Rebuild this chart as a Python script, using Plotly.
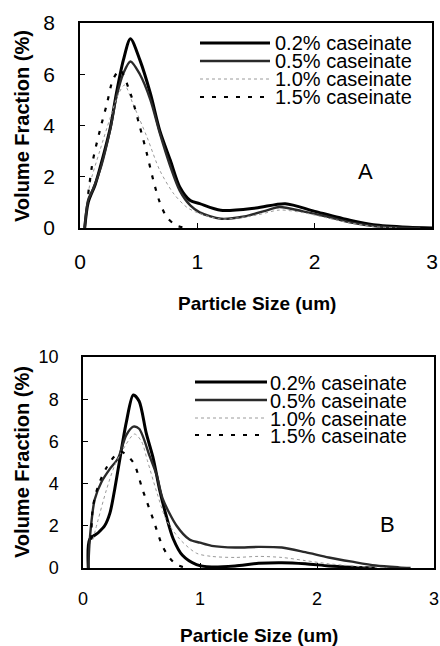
import plotly.graph_objects as go

# ---------------- Data ----------------
series_names = ["0.2% caseinate", "0.5% caseinate", "1.0% caseinate", "1.5% caseinate"]

# Panel A
A_x_02 = [0.04, 0.07, 0.13, 0.18, 0.26, 0.31, 0.37, 0.43, 0.51, 0.60, 0.68, 0.77, 0.85, 0.94, 1.02, 1.20, 1.50, 1.75, 2.00, 2.30, 2.50, 2.80, 3.00]
A_y_02 = [0.0, 1.0, 1.7, 2.5, 3.95, 5.25, 6.56, 7.39, 6.56, 5.25, 3.8, 2.64, 1.6, 1.07, 0.95, 0.69, 0.78, 0.95, 0.65, 0.3, 0.13, 0.03, 0.0]

A_x_05 = [0.04, 0.07, 0.11, 0.18, 0.26, 0.31, 0.37, 0.43, 0.51, 0.60, 0.68, 0.77, 0.85, 0.94, 1.02, 1.20, 1.40, 1.60, 1.70, 1.90, 2.10, 2.30, 2.50, 2.70, 2.90]
A_y_05 = [0.0, 1.1, 1.5, 2.4, 3.9, 5.1, 6.04, 6.5, 6.0, 5.0, 3.7, 2.4, 1.46, 0.88, 0.61, 0.36, 0.45, 0.7, 0.82, 0.65, 0.45, 0.22, 0.08, 0.02, 0.0]

A_x_10 = [0.07, 0.085, 0.17, 0.26, 0.33, 0.38, 0.45, 0.57, 0.68, 0.80, 0.91, 1.00, 1.20, 1.50, 1.70, 1.90, 2.10, 2.30, 2.50, 2.70]
A_y_10 = [1.3, 1.73, 3.03, 4.34, 5.25, 5.58, 4.86, 3.56, 2.25, 1.33, 0.81, 0.6, 0.35, 0.5, 0.7, 0.6, 0.4, 0.2, 0.06, 0.0]

A_x_15 = [0.07, 0.11, 0.17, 0.23, 0.28, 0.34, 0.43, 0.51, 0.57, 0.625, 0.68, 0.74, 0.82, 0.91]
A_y_15 = [1.33, 2.64, 3.82, 4.86, 5.78, 6.17, 5.25, 3.95, 2.9, 1.86, 1.0, 0.42, 0.1, 0.0]

# Panel B
B_x_02 = [0.045, 0.057, 0.13, 0.185, 0.23, 0.27, 0.31, 0.37, 0.43, 0.48, 0.54, 0.60, 0.655, 0.71, 0.77, 0.85, 0.97, 1.10, 1.30, 1.50, 1.70, 1.90, 2.10, 2.30, 2.50]
B_y_02 = [0.0, 1.35, 1.67, 2.0, 2.6, 3.7, 5.0, 6.9, 8.2, 7.9, 6.4, 5.2, 3.7, 2.5, 1.4, 0.6, 0.16, 0.05, 0.1, 0.22, 0.25, 0.2, 0.1, 0.04, 0.0]

B_x_05 = [0.045, 0.06, 0.10, 0.16, 0.23, 0.30, 0.37, 0.43, 0.48, 0.57, 0.63, 0.68, 0.80, 0.91, 1.00, 1.10, 1.30, 1.50, 1.70, 1.90, 2.10, 2.30, 2.50, 2.70, 2.80]
B_y_05 = [0.0, 1.5, 3.25, 4.1, 4.7, 5.2, 6.3, 6.7, 6.6, 5.3, 4.4, 3.3, 2.0, 1.35, 1.2, 1.05, 0.97, 1.0, 0.97, 0.75, 0.5, 0.3, 0.12, 0.03, 0.0]

B_x_10 = [0.085, 0.13, 0.20, 0.27, 0.34, 0.44, 0.50, 0.55, 0.63, 0.71, 0.83, 0.97, 1.10, 1.30, 1.50, 1.70, 1.90, 2.10, 2.30, 2.50, 2.60]
B_y_10 = [1.35, 2.3, 3.7, 4.85, 5.6, 6.35, 6.0, 5.1, 3.6, 2.3, 1.35, 0.7, 0.55, 0.5, 0.55, 0.5, 0.35, 0.2, 0.1, 0.03, 0.0]

B_x_15 = [0.07, 0.085, 0.13, 0.20, 0.27, 0.33, 0.43, 0.51, 0.60, 0.68, 0.74, 0.80, 0.88]
B_y_15 = [1.35, 2.9, 3.9, 4.75, 5.3, 5.5, 5.0, 3.7, 2.3, 1.03, 0.48, 0.16, 0.0]

x_ticks = [0, 1, 2, 3]
yA_ticks = [0, 2, 4, 6, 8]
yB_ticks = [0, 2, 4, 6, 8, 10]

# ---------------- Styles ----------------
W, H = 440, 646
FONT = "Liberation Sans, Arial, sans-serif"
styles = [
    dict(color="#000000", width=3.0, dash="solid"),
    dict(color="#2a2a2a", width=2.4, dash="solid"),
    dict(color="#9a9a9a", width=1.0, dash="dot"),
    dict(color="#000000", width=2.2, dash="4px,8px"),
]

fig = go.Figure()

panelA = [(A_x_02, A_y_02), (A_x_05, A_y_05), (A_x_10, A_y_10), (A_x_15, A_y_15)]
panelB = [(B_x_02, B_y_02), (B_x_05, B_y_05), (B_x_10, B_y_10), (B_x_15, B_y_15)]

for (xs, ys), st, nm in zip(panelA, styles, series_names):
    fig.add_trace(go.Scatter(x=xs, y=ys, mode="lines", name=nm, showlegend=False,
                             line=dict(shape="spline", smoothing=0.8, **st),
                             xaxis="x", yaxis="y"))
for (xs, ys), st, nm in zip(panelB, styles, series_names):
    fig.add_trace(go.Scatter(x=xs, y=ys, mode="lines", name=nm, showlegend=False,
                             line=dict(shape="spline", smoothing=0.8, **st),
                             xaxis="x2", yaxis="y2"))

def px(x):
    return x / W

def py(y):
    return 1 - y / H

axis_common = dict(showgrid=False, zeroline=False, showline=True, linecolor="black",
                   linewidth=1.5, mirror=True, ticks="inside", ticklen=5,
                   tickwidth=1, tickcolor="black", automargin=False)

fig.update_layout(
    width=W, height=H,
    margin=dict(l=0, r=0, t=0, b=0, autoexpand=False),
    paper_bgcolor="white", plot_bgcolor="white",
    font=dict(family=FONT, color="black"),
    xaxis=dict(domain=[px(80), px(432)], range=[0, 3], tickvals=x_ticks,
               tickfont=dict(size=21), ticklabelstandoff=14, anchor="y", **axis_common),
    yaxis=dict(domain=[py(228), py(23)], range=[0, 8], tickvals=yA_ticks,
               tickfont=dict(size=21), ticklabelstandoff=19, anchor="x", **axis_common),
    xaxis2=dict(domain=[px(83), px(434)], range=[0, 3], tickvals=x_ticks,
                tickfont=dict(size=18), ticklabelstandoff=14, anchor="y2", **axis_common),
    yaxis2=dict(domain=[py(568), py(357)], range=[0, 10], tickvals=yB_ticks,
                tickfont=dict(size=18), ticklabelstandoff=19, anchor="x2", **axis_common),
)

# Axis titles
anns = [
    dict(text="<b>Particle Size (um)</b>", x=px(257), y=py(303), font=dict(size=19)),
    dict(text="<b>Volume Fraction (%)</b>", x=px(22), y=py(126), textangle=-90, font=dict(size=20)),
    dict(text="<b>Particle Size (um)</b>", x=px(259), y=py(635), font=dict(size=19)),
    dict(text="<b>Volume Fraction (%)</b>", x=px(22), y=py(462), textangle=-90, font=dict(size=20)),
    dict(text="A", x=px(365), y=py(172), font=dict(size=22)),
    dict(text="B", x=px(387), y=py(524), font=dict(size=22)),
]
for a in anns:
    fig.add_annotation(xref="paper", yref="paper", showarrow=False,
                       xanchor="center", yanchor="middle", **a)

# Legends (drawn inside each panel)
legend_rows = [
    dict(x0=200, x1=270, tx=274, ys=[43, 61, 79, 97], size=20),
    dict(x0=195, x1=267, tx=269, ys=[382, 400, 418, 435], size=20),
]
for lg in legend_rows:
    for nm, st, yy in zip(series_names, styles, lg["ys"]):
        fig.add_shape(type="line", xref="paper", yref="paper",
                      x0=px(lg["x0"]), x1=px(lg["x1"]), y0=py(yy), y1=py(yy),
                      line=dict(color=st["color"], width=st["width"], dash=st["dash"]))
        fig.add_annotation(xref="paper", yref="paper", showarrow=False,
                           x=px(lg["tx"]), y=py(yy), xanchor="left", yanchor="middle",
                           text=nm, font=dict(size=lg["size"]), height=17,
                           borderpad=0)

fig.write_html("out.html", config={"displayModeBar": False},
               post_script="document.body.style.margin='0';document.body.style.overflow='hidden';")
